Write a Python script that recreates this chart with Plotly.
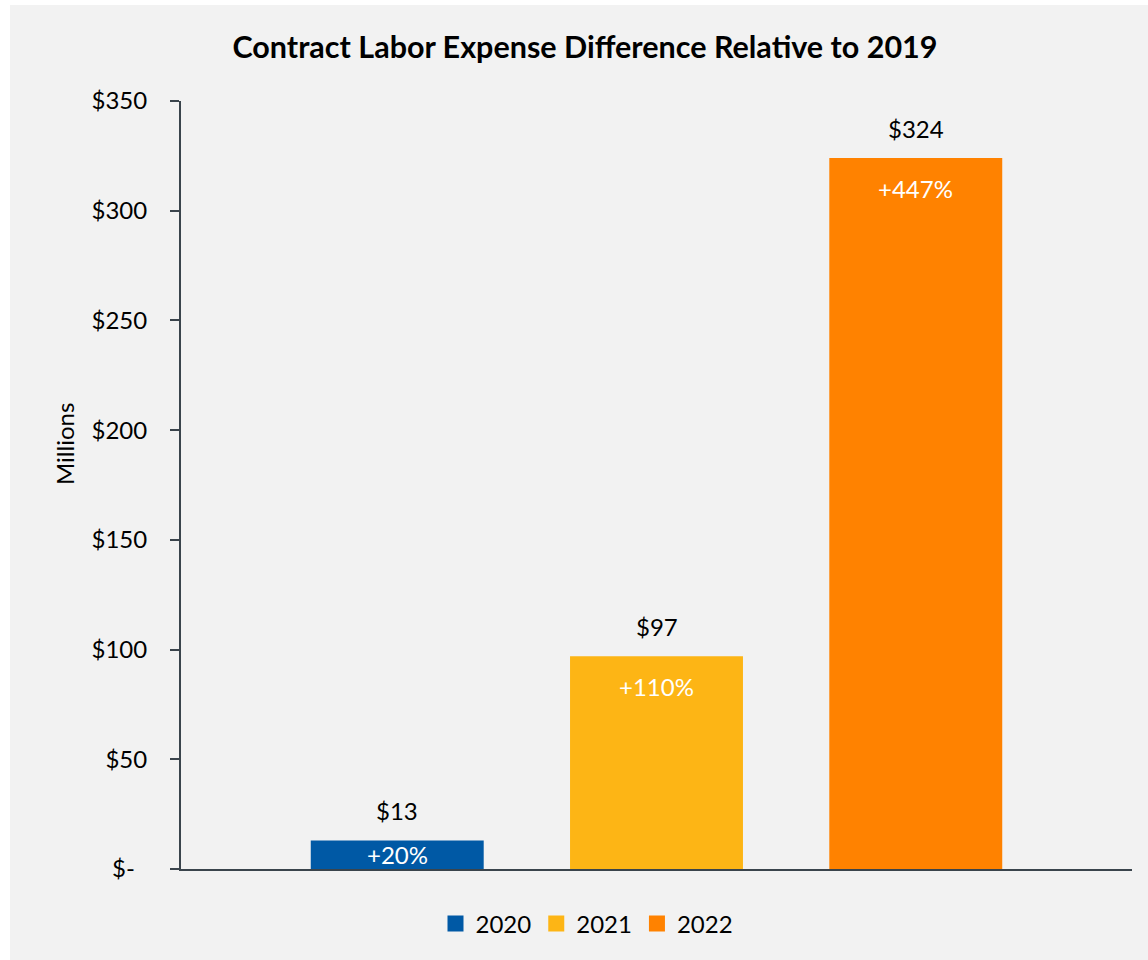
import plotly.graph_objects as go

# Contract labor expense above the 2019 baseline, in millions of dollars
years = ["2020", "2021", "2022"]
increase_musd = [13, 97, 324]
pct_change = ["+20%", "+110%", "+447%"]
bar_colors = ["#0059A5", "#FDB515", "#FF8200"]

y_ticks = [0, 50, 100, 150, 200, 250, 300, 350]
y_tick_text = ["$-\u00a0\u00a0", "$50", "$100", "$150", "$200", "$250", "$300", "$350"]

W, H = 1148, 960
ML, MR, MT, MB = 181, 16, 101, 91
plot_h = H - MT - MB
plot_w = W - ML - MR
y_max = 350
px_per_unit = plot_h / y_max

FONT = "Lato, Calibri, 'Liberation Sans', sans-serif"
AXIS_COLOR = "#3A444C"
BG = "#F2F2F2"

fig = go.Figure()
for yr, val, col in zip(years, increase_musd, bar_colors):
    fig.add_trace(go.Bar(
        x=[yr], y=[val], name=yr, marker=dict(color=col, line=dict(width=0)),
        width=0.667, hoverinfo="skip", showlegend=False, legendgroup=yr,
    ))
# square swatches for the legend
for yr, col in zip(years, bar_colors):
    fig.add_trace(go.Scatter(
        x=[None], y=[None], mode="markers", name=yr, legendgroup=yr,
        marker=dict(symbol="square", size=16, color=col, line=dict(width=0)),
        hoverinfo="skip",
    ))

annotations = []
for i, (val, pct) in enumerate(zip(increase_musd, pct_change)):
    # value above the bar
    annotations.append(dict(
        x=i, y=val, xref="x", yref="y", text=f"${val}", showarrow=False,
        xanchor="center", yanchor="middle", yshift=30,
        font=dict(family=FONT, size=24, color="#000000"),
    ))
    # percentage change just inside the top of the bar
    bar_px = val * px_per_unit
    annotations.append(dict(
        x=i, y=val, xref="x", yref="y", text=pct, showarrow=False,
        xanchor="center", yanchor="middle", yshift=-min(30, bar_px / 2),
        font=dict(family=FONT, size=24, color="#FFFFFF"),
    ))

# vertical axis title, placed by pixel position converted to paper units
annotations.append(dict(
    x=(64 - ML) / plot_w, y=(H - MB - 444) / plot_h, xref="paper", yref="paper",
    text="Millions", showarrow=False, textangle=-90,
    xanchor="center", yanchor="middle",
    font=dict(family=FONT, size=24, color="#000000"),
))

# grey panel leaving a thin white edge on the top and left
bg_shape = dict(
    type="rect", xref="paper", yref="paper", layer="below",
    x0=(10 - ML) / plot_w, x1=(W - ML + 5) / plot_w,
    y0=-(MB + 5) / plot_h, y1=(H - MB - 5) / plot_h,
    fillcolor=BG, line=dict(width=0),
)

fig.update_layout(
    width=W, height=H,
    margin=dict(l=ML, r=MR, t=MT, b=MB, pad=0),
    paper_bgcolor="#FFFFFF", plot_bgcolor=BG,
    barmode="overlay",
    font=dict(family=FONT, size=24, color="#000000"),
    title=dict(
        text="<b>Contract Labor Expense Difference Relative to 2019</b>",
        x=585 / W, xref="container", xanchor="center",
        y=1 - 47 / H, yref="container", yanchor="middle",
        font=dict(family=FONT, size=30.5, color="#000000"),
    ),
    xaxis=dict(
        type="category", categoryorder="array", categoryarray=years,
        range=[-0.834, 2.834], showticklabels=False, ticks="",
        showline=True, linecolor=AXIS_COLOR, linewidth=2,
        showgrid=False, zeroline=False, fixedrange=True,
    ),
    yaxis=dict(
        range=[0, y_max], tickvals=y_ticks, ticktext=y_tick_text,
        ticks="outside", ticklen=9, tickwidth=2, tickcolor=AXIS_COLOR,
        showline=True, linecolor=AXIS_COLOR, linewidth=2,
        showgrid=False, zeroline=False, ticklabelstandoff=18,
        tickfont=dict(family=FONT, size=24, color="#000000"),
    ),
    legend=dict(
        orientation="h", x=(587 - ML) / plot_w, xanchor="center",
        y=(H - MB - 924) / plot_h, yanchor="middle",
        font=dict(family=FONT, size=24, color="#000000"),
        bgcolor="rgba(0,0,0,0)", itemclick=False, itemdoubleclick=False,
        itemwidth=30,
    ),
    annotations=annotations,
    shapes=[bg_shape],
    showlegend=True,
)

fig.write_html("out.html")
